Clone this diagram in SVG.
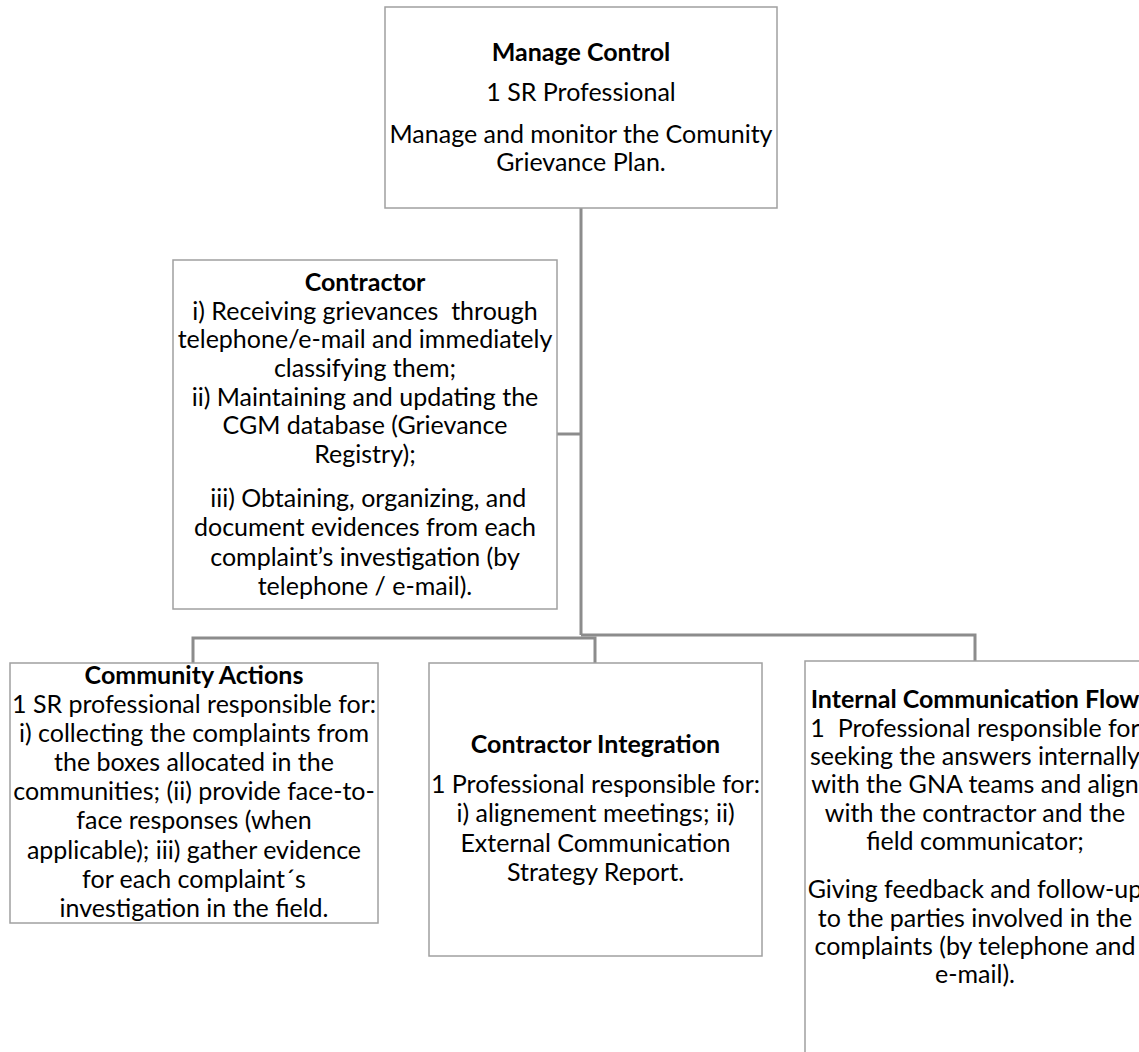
<svg xmlns="http://www.w3.org/2000/svg" width="1139" height="1052" viewBox="0 0 1139 1052">
<style>
.box{fill:#ffffff;stroke:#a0a0a0;stroke-width:1.5}
.conn{fill:none;stroke:#8c8c8c;stroke-width:3}
text{font-family:Lato,"Liberation Sans",sans-serif;font-size:25px;fill:#000;text-anchor:middle;white-space:pre}
.b{font-weight:bold}
</style>
<rect width="1139" height="1052" fill="#ffffff"/>
<g id="connectors">
<path class="conn" d="M581,208 V635"/>
<path class="conn" d="M557,434 H581"/>
<path class="conn" d="M581,635 H975 V661"/>
<path class="conn" d="M193,663 V638 H595 V663"/>
</g>
<g id="manage-control">
<rect class="box" x="385" y="7" width="392" height="201"/>
<text x="581" y="61" class="b">Manage Control</text>
<text x="581" y="101">1 SR Professional</text>
<text x="581" y="143">Manage and monitor the Comunity</text>
<text x="581" y="171">Grievance Plan.</text>
</g>
<g id="contractor">
<rect class="box" x="173" y="260" width="384" height="349"/>
<text x="365" y="291" class="b">Contractor</text>
<text x="365" y="320">i) Receiving grievances  through</text>
<text x="365" y="348">telephone/e-mail and immediately</text>
<text x="365" y="377">classifying them;</text>
<text x="365" y="406">ii) Maintaining and updating the</text>
<text x="365" y="434">CGM database (Grievance</text>
<text x="365" y="463">Registry);</text>
<text x="365" y="507"> iii) Obtaining, organizing, and</text>
<text x="365" y="536">document evidences from each</text>
<text x="365" y="566">complaint’s investigation (by</text>
<text x="365" y="595">telephone / e-mail).</text>
</g>
<g id="community-actions">
<rect class="box" x="10" y="663" width="368" height="260"/>
<text x="194" y="684" class="b">Community Actions</text>
<text x="194" y="713">1 SR professional responsible for:</text>
<text x="194" y="742">i) collecting the complaints from</text>
<text x="194" y="771">the boxes allocated in the</text>
<text x="194" y="800">communities; (ii) provide face-to-</text>
<text x="194" y="829">face responses (when</text>
<text x="194" y="859">applicable); iii) gather evidence</text>
<text x="194" y="888">for each complaint´s</text>
<text x="194" y="917">investigation in the field.</text>
</g>
<g id="contractor-integration">
<rect class="box" x="429" y="663" width="333" height="293"/>
<text x="595.5" y="753" class="b">Contractor Integration</text>
<text x="595.5" y="793">1 Professional responsible for:</text>
<text x="595.5" y="822">i) alignement meetings; ii)</text>
<text x="595.5" y="852">External Communication</text>
<text x="595.5" y="881">Strategy Report.</text>
</g>
<g id="internal-communication">
<rect class="box" x="805" y="661" width="340" height="420"/>
<text x="975" y="708" class="b">Internal Communication Flow</text>
<text x="975" y="737">1  Professional responsible for</text>
<text x="975" y="765">seeking the answers internally</text>
<text x="975" y="793">with the GNA teams and align</text>
<text x="975" y="822">with the contractor and the</text>
<text x="975" y="850">field communicator;</text>
<text x="975" y="898">Giving feedback and follow-up</text>
<text x="975" y="927">to the parties involved in the</text>
<text x="975" y="955">complaints (by telephone and</text>
<text x="975" y="983">e-mail).</text>
</g>
</svg>
